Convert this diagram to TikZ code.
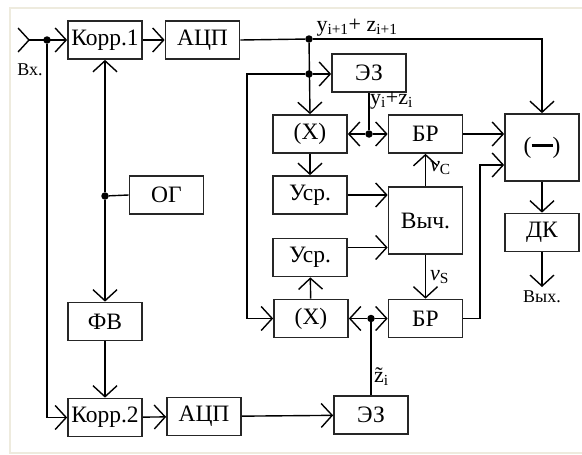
\documentclass[tikz,border=0pt]{standalone}
\usepackage{fontspec}
\setmainfont{Liberation Serif}
\usetikzlibrary{arrows.meta}

\begin{document}
\begin{tikzpicture}[x=1pt, y=-1pt,
  blk/.style={draw=black!85, line width=1.7pt, rectangle, minimum width=74pt, minimum height=38pt,
              inner sep=0pt, font=\fontsize{23.5}{26}\selectfont},
  tall/.style={blk, minimum height=67pt},
  arr/.style={line width=1.4pt, -{Straight Barb[length=11pt, width=24pt]}},
  ln/.style={line width=1.4pt},
  dot/.style={circle, fill, inner sep=0pt, minimum size=7.5pt},
  lbl/.style={font=\fontsize{22}{24}\selectfont, inner sep=1pt},
  sml/.style={font=\fontsize{18}{20}\selectfont, inner sep=1pt}
]
\useasboundingbox (0,0) rectangle (582,455);
% frame
\draw[line width=2pt, color={rgb,255:red,238;green,235;blue,222}] (582,8) -- (10,8) -- (10,453) -- (582,453);

% left part
\node[blk] (korr1) at (105,40)    {Корр.1};
\node[blk] (adc1)  at (202.5,40)  {АЦП};
\node[blk] (og)    at (166.5,195) {ОГ};
\node[blk] (fv)    at (105,321.5) {ФВ};
\node[blk] (korr2) at (105,417.5) {Корр.2};
\node[blk] (adc2)  at (204,416.5) {АЦП};

% middle part
\node[blk] (ez1)  at (369,73)    {ЭЗ};
\node[blk] (mul1) at (310,134)   {(X)};
\node[blk] (br1)  at (425.5,134) {БР};
\node[blk] (usr1) at (310,195)   {Уср.};
\node[tall] (calc) at (425.5,220.5) {Выч.};
\node[blk] (usr2) at (310,257.5) {Уср.};
\node[blk] (mul2) at (311,318.5) {(X)};
\node[blk] (br2)  at (425.5,318.5) {БР};
\node[blk] (ez2)  at (371,415)   {ЭЗ};

% right part
\node[tall] (sub) at (542,147.5) {(\rule[6pt]{21pt}{3.6pt})};
\node[blk] (dk)   at (542,232.5) {ДК};

% junctions and free ends
\coordinate (in)  at (30,40);
\coordinate (out) at (542,287);
\node[dot] (j1) at (47,40) {};
\node[dot] (j2) at (105,196) {};
\node[dot] (j3) at (309,39) {};
\node[dot] (j4) at (309,74) {};
\node[dot] (j5) at (ez1.south |- mul1) {};
\node[dot] (j6) at (ez2.north |- mul2) {};
\coordinate (lp) at (247,74);
\coordinate (rp) at (480,318.5);
\coordinate (rq) at (480,165);

% input
\draw[arr] ([xshift=-0.1pt]in) -- (in);
\draw[arr] (in) -- (korr1.west);
\node[sml] (inlbl) at (30,70) {Вх.};
\draw[arr] (j1) |- (korr2.west);
\draw[arr] (korr1) -- (adc1);
\draw[arr] (j2) -- (korr1.south);
\draw[arr] (j2) -- (fv.north);
\draw[ln] (j2) -- (og.west);
\draw[arr] (fv) -- (korr2);
\draw[arr] (korr2) -- (adc2);
\draw[arr] (adc2) -- (ez2);

% upper channel
\draw[ln] (adc1.east) -- (j3);
\draw[arr] (j3) -| (sub.north);
\node[lbl, anchor=south] (ylbl) at (357,37) {y\textsubscript{i+1}+ z\textsubscript{i+1}};
\draw[arr] (j3) -- (mul1.north);
\draw[arr] (j4) -- (j4 -| ez1.west);
\draw[arr] (j4) -- (lp) |- (mul2.west);
\draw[ln] (ez1.south) -- (j5);
\node[lbl, anchor=west] (yzlbl) at (369,101) {y\textsubscript{i}+z\textsubscript{i}};
\draw[arr] (j5) -- (mul1.east);
\draw[arr] (j5) -- (br1.west);
\draw[arr] (br1.east) -- (br1.east -| sub.west);
\draw[arr] (mul1) -- (usr1);
\draw[arr] (usr1.east) -- (usr1.east -| calc.west);
\draw[arr] (calc.north) -- (br1.south) node[lbl, midway, anchor=west, xshift=3pt, yshift=2pt] {\textit{v}\textsubscript{C}};

% lower channel
\draw[arr] ([yshift=10pt]usr2.east) -- ([yshift=10pt]usr2.east -| calc.west);
\draw[arr] (mul2) -- (usr2);
\draw[arr] (calc.south) -- (br2.north) node[lbl, midway, anchor=west, xshift=3pt] {\textit{v}\textsubscript{S}};
\draw[ln] (ez2.north) -- (j6);
\node[lbl, anchor=west] (ztlbl) at (373,377) {\~{z}\textsubscript{i}};
\draw[arr] (j6) -- (mul2.east);
\draw[arr] (j6) -- (br2.west);
\draw[arr] (br2.east) -- (rp) -- (rq) -- (rq -| sub.west);

% output
\draw[arr] (sub) -- (dk);
\draw[arr] (dk.south) -- (out);
\node[sml, anchor=north] (outlbl) at (542,290) {Вых.};
\end{tikzpicture}
\end{document}
